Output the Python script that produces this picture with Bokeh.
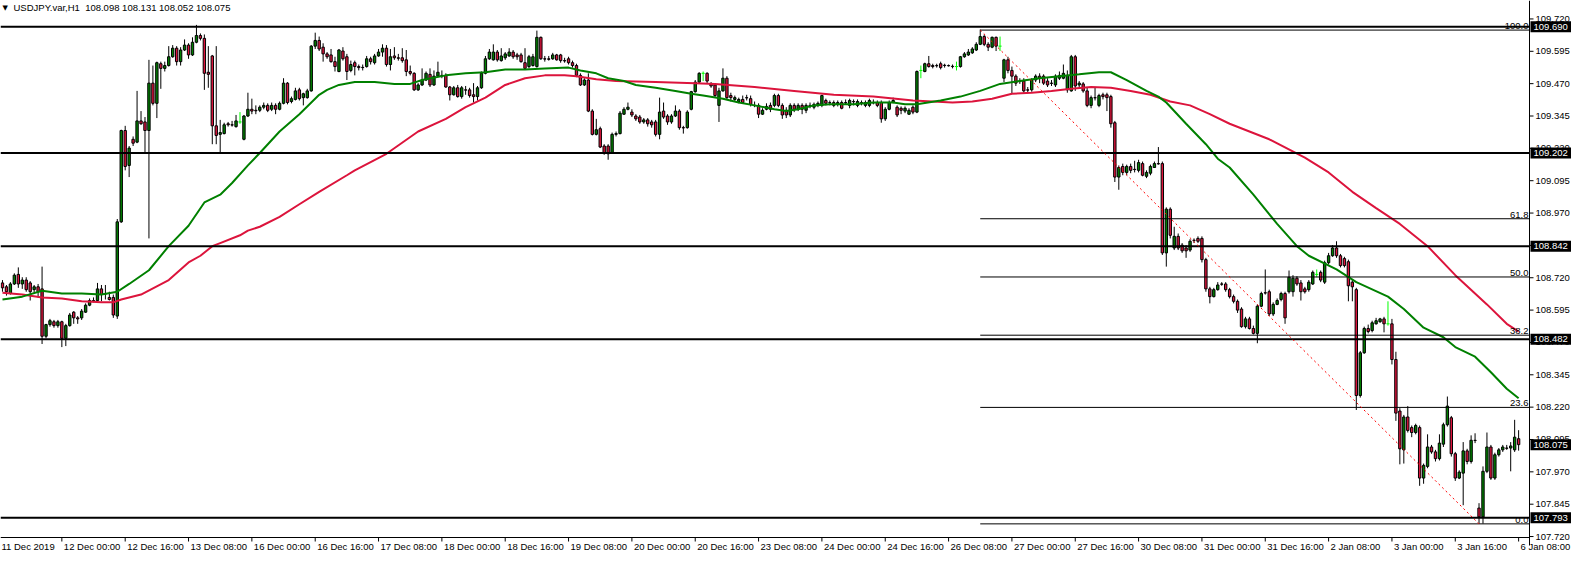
from bokeh.plotting import figure
from bokeh.models import Range1d, ColumnDataSource
from bokeh.core.properties import value
from bokeh.embed import file_html
from bokeh.resources import INLINE

# ---------------- data ----------------
opens = [108.700,108.685,108.659,108.696,108.733,108.696,108.711,108.700,108.674,108.685,
108.677,108.494,108.539,108.550,108.535,108.550,108.486,108.535,108.587,108.565,
108.565,108.587,108.614,108.632,108.632,108.677,108.659,108.644,108.644,108.572,
108.936,109.289,109.154,109.255,109.244,109.326,109.322,109.289,109.472,109.394,
109.547,109.529,109.540,109.574,109.607,109.555,109.600,109.619,109.581,109.630,
109.656,109.645,109.514,109.577,109.307,109.274,109.277,109.315,109.311,109.304,
109.322,109.255,109.345,109.371,109.367,109.367,109.379,109.386,109.371,109.386,
109.371,109.394,109.472,109.401,109.409,109.446,109.416,109.416,109.442,109.615,
109.637,109.611,109.585,109.581,109.555,109.517,109.596,109.574,109.521,109.551,
109.536,109.532,109.536,109.566,109.551,109.577,109.592,109.607,109.544,109.577,
109.570,109.570,109.562,109.517,109.510,109.446,109.465,109.484,109.506,109.465,
109.499,109.502,109.502,109.457,109.427,109.454,109.420,109.446,109.446,109.427,
109.420,109.454,109.510,109.566,109.562,109.592,109.559,109.570,109.577,109.592,
109.581,109.581,109.551,109.536,109.540,109.536,109.649,109.566,109.566,109.566,
109.581,109.581,109.559,109.566,109.551,109.540,109.502,109.465,109.484,109.364,
109.274,109.296,109.229,109.229,109.202,109.274,109.277,109.352,109.371,109.360,
109.345,109.341,109.322,109.330,109.322,109.322,109.274,109.364,109.345,109.322,
109.345,109.364,109.300,109.300,109.371,109.439,109.476,109.510,109.510,109.469,
109.465,109.386,109.442,109.491,109.424,109.409,109.401,109.409,109.416,109.412,
109.386,109.386,109.352,109.371,109.386,109.386,109.424,109.386,109.367,109.349,
109.386,109.371,109.386,109.367,109.386,109.379,109.386,109.386,109.405,109.397,
109.397,109.390,109.397,109.397,109.386,109.401,109.386,109.397,109.386,109.386,
109.397,109.397,109.397,109.334,109.371,109.397,109.379,109.375,109.364,109.352,
109.379,109.360,109.521,109.517,109.547,109.540,109.540,109.547,109.540,109.540,
109.536,109.536,109.536,109.574,109.581,109.589,109.600,109.622,109.652,109.622,
109.611,109.649,109.615,109.491,109.562,109.521,109.499,109.480,109.480,109.446,
109.446,109.484,109.499,109.499,109.480,109.472,109.465,109.491,109.491,109.446,
109.442,109.574,109.465,109.469,109.442,109.386,109.416,109.386,109.427,109.427,
109.420,109.319,109.109,109.150,109.127,109.150,109.139,109.135,109.161,109.112,
109.124,109.146,109.161,109.161,108.816,108.985,108.835,108.880,108.846,108.835,
108.827,108.865,108.872,108.872,108.790,108.677,108.647,108.674,108.696,108.696,
108.674,108.647,108.629,108.599,108.531,108.561,108.524,108.505,108.610,108.662,
108.666,108.580,108.617,108.636,108.659,108.666,108.666,108.718,108.700,108.677,
108.674,108.696,108.733,108.741,108.703,108.778,108.805,108.835,108.805,108.794,
108.782,108.703,108.674,108.265,108.430,108.524,108.516,108.542,108.550,108.561,
108.542,108.542,108.404,108.205,108.055,108.182,108.141,108.122,108.141,107.946,
107.991,108.066,108.047,108.021,108.077,108.152,108.179,108.040,107.946,107.965,
108.051,108.010,108.092,107.830,107.796,107.972,108.066,107.946,108.036,108.055,
108.062,108.062,108.055,108.098]

highs = [108.711,108.692,108.703,108.737,108.760,108.722,108.722,108.707,108.692,108.696,
108.763,108.542,108.561,108.557,108.557,108.554,108.542,108.584,108.591,108.572,
108.599,108.621,108.640,108.644,108.700,108.692,108.692,108.666,108.655,108.947,
109.292,109.307,109.229,109.266,109.442,109.364,109.341,109.562,109.540,109.555,
109.555,109.555,109.615,109.619,109.615,109.611,109.641,109.626,109.649,109.697,
109.664,109.660,109.615,109.581,109.615,109.330,109.319,109.322,109.326,109.349,
109.360,109.349,109.435,109.412,109.386,109.386,109.397,109.394,109.397,109.394,
109.401,109.491,109.476,109.420,109.454,109.454,109.435,109.450,109.619,109.667,
109.652,109.626,109.592,109.604,109.574,109.604,109.611,109.585,109.559,109.559,
109.544,109.544,109.577,109.574,109.585,109.604,109.622,109.619,109.604,109.611,
109.585,109.607,109.600,109.540,109.514,109.472,109.529,109.517,109.529,109.521,
109.555,109.521,109.510,109.461,109.461,109.465,109.461,109.461,109.454,109.472,
109.461,109.517,109.577,109.604,109.622,109.600,109.607,109.592,109.607,109.600,
109.589,109.589,109.607,109.581,109.585,109.675,109.652,109.577,109.577,109.589,
109.585,109.585,109.570,109.574,109.559,109.547,109.510,109.491,109.510,109.371,
109.334,109.304,109.236,109.236,109.281,109.285,109.364,109.379,109.397,109.371,
109.352,109.349,109.337,109.337,109.330,109.330,109.416,109.397,109.352,109.352,
109.386,109.371,109.307,109.367,109.442,109.484,109.514,109.517,109.514,109.476,
109.472,109.454,109.529,109.499,109.435,109.424,109.416,109.424,109.427,109.424,
109.401,109.394,109.375,109.394,109.397,109.431,109.431,109.394,109.379,109.394,
109.394,109.394,109.394,109.394,109.397,109.397,109.401,109.427,109.412,109.405,
109.405,109.405,109.405,109.409,109.412,109.409,109.409,109.405,109.405,109.412,
109.409,109.405,109.405,109.379,109.405,109.416,109.386,109.382,109.382,109.375,
109.386,109.521,109.540,109.551,109.577,109.547,109.547,109.555,109.547,109.544,
109.544,109.555,109.577,109.592,109.604,109.611,109.630,109.679,109.660,109.630,
109.652,109.652,109.652,109.566,109.574,109.536,109.506,109.491,109.491,109.457,
109.491,109.506,109.510,109.506,109.491,109.484,109.506,109.517,109.544,109.521,
109.581,109.581,109.480,109.476,109.454,109.424,109.454,109.431,109.435,109.435,
109.427,109.326,109.154,109.161,109.157,109.161,109.172,109.176,109.169,109.135,
109.157,109.169,109.225,109.169,108.992,108.992,108.917,108.891,108.854,108.846,
108.869,108.872,108.880,108.880,108.797,108.685,108.681,108.703,108.703,108.703,
108.681,108.655,108.636,108.606,108.569,108.569,108.535,108.617,108.666,108.752,
108.674,108.625,108.640,108.666,108.666,108.748,108.730,108.726,108.711,108.685,
108.711,108.748,108.752,108.748,108.786,108.816,108.846,108.861,108.812,108.801,
108.790,108.711,108.681,108.437,108.531,108.539,108.554,108.565,108.565,108.569,
108.629,108.561,108.434,108.216,108.190,108.224,108.149,108.156,108.149,108.002,
108.115,108.074,108.055,108.115,108.160,108.261,108.186,108.047,107.976,108.085,
108.059,108.111,108.119,107.849,107.991,108.122,108.074,108.044,108.062,108.074,
108.074,108.085,108.171,108.131]

lows = [108.666,108.651,108.655,108.692,108.681,108.677,108.666,108.632,108.662,108.644,
108.464,108.486,108.531,108.527,108.527,108.452,108.456,108.531,108.542,108.542,
108.557,108.584,108.610,108.625,108.629,108.629,108.636,108.632,108.565,108.561,
108.932,109.135,109.109,109.229,109.240,109.311,109.206,108.872,109.386,109.337,
109.450,109.517,109.536,109.570,109.540,109.540,109.596,109.566,109.577,109.626,
109.637,109.446,109.454,109.236,109.236,109.202,109.274,109.304,109.304,109.300,
109.315,109.251,109.341,109.352,109.352,109.360,109.371,109.360,109.364,109.352,
109.367,109.390,109.390,109.394,109.405,109.405,109.386,109.412,109.439,109.604,
109.596,109.555,109.566,109.551,109.517,109.514,109.559,109.484,109.514,109.502,
109.521,109.521,109.532,109.544,109.544,109.574,109.574,109.536,109.521,109.562,
109.559,109.551,109.499,109.502,109.442,109.442,109.461,109.480,109.457,109.461,
109.495,109.491,109.454,109.405,109.424,109.416,109.412,109.427,109.416,109.397,
109.405,109.450,109.506,109.562,109.559,109.555,109.555,109.562,109.574,109.566,
109.562,109.551,109.525,109.529,109.536,109.532,109.562,109.555,109.559,109.562,
109.559,109.551,109.551,109.544,109.532,109.495,109.461,109.461,109.360,109.270,
109.270,109.221,109.195,109.176,109.199,109.266,109.274,109.349,109.367,109.341,
109.326,109.315,109.315,109.304,109.300,109.266,109.255,109.334,109.311,109.315,
109.341,109.292,109.277,109.296,109.367,109.435,109.472,109.480,109.472,109.454,
109.416,109.322,109.439,109.409,109.401,109.401,109.394,109.394,109.405,109.382,
109.379,109.337,109.349,109.367,109.360,109.379,109.379,109.334,109.337,109.341,
109.360,109.364,109.352,109.356,109.375,109.371,109.379,109.379,109.386,109.386,
109.379,109.382,109.371,109.390,109.375,109.386,109.379,109.386,109.379,109.379,
109.390,109.379,109.319,109.326,109.367,109.394,109.341,109.352,109.356,109.349,
109.352,109.356,109.491,109.514,109.532,109.529,109.532,109.525,109.532,109.536,
109.529,109.521,109.532,109.570,109.577,109.585,109.596,109.619,109.615,109.596,
109.607,109.596,109.596,109.476,109.510,109.431,109.461,109.469,109.435,109.435,
109.439,109.476,109.472,109.465,109.457,109.461,109.457,109.484,109.487,109.435,
109.439,109.442,109.454,109.435,109.379,109.375,109.405,109.379,109.409,109.364,
109.300,109.090,109.060,109.116,109.116,109.124,109.127,109.127,109.112,109.105,
109.116,109.146,109.157,108.808,108.763,108.872,108.827,108.827,108.816,108.797,
108.820,108.854,108.854,108.779,108.666,108.621,108.644,108.670,108.689,108.666,
108.640,108.621,108.584,108.527,108.524,108.520,108.501,108.467,108.606,108.655,
108.572,108.572,108.614,108.629,108.542,108.659,108.647,108.689,108.632,108.659,
108.666,108.692,108.722,108.703,108.696,108.771,108.801,108.797,108.760,108.760,
108.629,108.629,108.209,108.257,108.426,108.505,108.509,108.539,108.546,108.509,
108.535,108.385,108.167,107.999,108.002,108.122,108.104,108.115,107.916,107.924,
107.984,108.040,108.010,108.014,108.066,108.145,108.029,107.935,107.942,107.841,
107.999,108.002,108.081,107.770,107.770,107.965,107.939,107.939,108.029,108.047,
108.055,107.972,108.047,108.052]

closes = [108.681,108.666,108.696,108.730,108.696,108.711,108.674,108.666,108.685,108.666,
108.494,108.539,108.554,108.535,108.550,108.486,108.535,108.576,108.565,108.561,
108.591,108.614,108.632,108.629,108.677,108.655,108.657,108.636,108.576,108.936,
109.289,109.150,109.221,109.240,109.326,109.315,109.289,109.472,109.394,109.551,
109.529,109.540,109.574,109.607,109.555,109.600,109.619,109.581,109.630,109.656,
109.645,109.510,109.506,109.307,109.270,109.281,109.311,109.311,109.310,109.326,
109.322,109.345,109.371,109.364,109.365,109.379,109.386,109.367,109.386,109.371,
109.394,109.472,109.397,109.412,109.442,109.412,109.431,109.442,109.615,109.637,
109.604,109.585,109.574,109.555,109.536,109.600,109.566,109.517,109.544,109.536,
109.532,109.533,109.566,109.555,109.577,109.592,109.607,109.544,109.574,109.570,
109.568,109.559,109.517,109.510,109.446,109.465,109.484,109.510,109.465,109.499,
109.514,109.501,109.457,109.427,109.454,109.420,109.454,109.445,109.424,109.420,
109.454,109.510,109.566,109.592,109.592,109.562,109.577,109.585,109.592,109.574,
109.574,109.555,109.529,109.574,109.574,109.649,109.566,109.565,109.564,109.581,
109.562,109.559,109.558,109.551,109.540,109.502,109.465,109.484,109.364,109.274,
109.292,109.225,109.202,109.199,109.274,109.277,109.356,109.371,109.379,109.349,
109.334,109.322,109.330,109.315,109.311,109.274,109.360,109.341,109.322,109.345,
109.364,109.300,109.299,109.360,109.439,109.476,109.510,109.510,109.480,109.461,
109.424,109.442,109.491,109.416,109.416,109.416,109.409,109.397,109.415,109.390,
109.385,109.352,109.367,109.382,109.371,109.424,109.386,109.349,109.349,109.386,
109.371,109.386,109.371,109.386,109.385,109.390,109.394,109.424,109.394,109.396,
109.386,109.397,109.375,109.396,109.405,109.400,109.401,109.396,109.397,109.405,
109.396,109.386,109.334,109.371,109.397,109.405,109.349,109.367,109.375,109.367,
109.360,109.517,109.521,109.547,109.536,109.536,109.539,109.532,109.541,109.539,
109.537,109.536,109.574,109.585,109.592,109.604,109.622,109.652,109.622,109.611,
109.649,109.615,109.615,109.562,109.521,109.499,109.472,109.478,109.442,109.445,
109.484,109.499,109.491,109.472,109.465,109.471,109.499,109.502,109.510,109.502,
109.574,109.461,109.472,109.442,109.386,109.416,109.415,109.424,109.420,109.416,
109.315,109.109,109.146,109.127,109.150,109.135,109.138,109.165,109.116,109.127,
109.150,109.161,109.160,108.816,108.985,108.884,108.880,108.835,108.824,108.824,
108.861,108.864,108.861,108.790,108.677,108.647,108.674,108.692,108.695,108.674,
108.647,108.629,108.595,108.531,108.561,108.524,108.505,108.610,108.659,108.661,
108.580,108.617,108.632,108.659,108.565,108.722,108.718,108.696,108.666,108.666,
108.703,108.741,108.733,108.711,108.778,108.805,108.835,108.805,108.767,108.767,
108.689,108.685,108.265,108.430,108.524,108.512,108.546,108.554,108.561,108.542,
108.542,108.404,108.197,108.059,108.182,108.130,108.122,108.149,107.946,107.995,
108.066,108.047,108.021,108.081,108.152,108.224,108.040,107.946,107.969,108.051,
108.010,108.092,108.091,107.796,107.972,108.066,107.946,108.036,108.055,108.066,
108.061,108.070,108.104,108.075]

# moving averages (read at sampled bars)
ma_fast_bars = [0,5,10,15,20,25,29,32,37,42,47,51,55,58,62,65,70,75,80,82,85,89,94,99,103,106,112,117,122,127,
                132,137,143,146,150,153,157,160,165,170,174,177,182,186,190,195,198,201,205,209,215,220,225,228,231,
                237,242,247,252,257,262,267,272,277,280,284,289,292,294,299,304,307,310,316,322,327,330,337,342,350,
                354,359,364,367,372,376,380,383]
ma_fast_vals = [108.636,108.647,108.670,108.659,108.659,108.655,108.666,108.696,108.749,108.842,108.921,109.011,
                109.041,109.086,109.154,109.202,109.285,109.352,109.427,109.446,109.465,109.476,109.476,109.469,
                109.469,109.484,109.502,109.510,109.514,109.525,109.525,109.529,109.532,109.521,109.510,109.491,
                109.480,109.465,109.454,109.442,109.431,109.424,109.412,109.397,109.386,109.371,109.364,109.371,
                109.386,109.390,109.390,109.397,109.397,109.390,109.390,109.405,109.420,109.442,109.469,109.480,
                109.491,109.499,109.506,109.514,109.514,109.484,109.442,109.420,109.397,109.315,109.236,109.180,
                109.146,109.041,108.928,108.842,108.805,108.752,108.703,108.647,108.599,108.527,108.490,108.452,
                108.415,108.355,108.291,108.254]
ma_slow_bars = [0,5,10,15,20,25,28,30,35,42,47,50,53,55,60,62,65,70,75,80,87,89,97,105,112,117,122,127,132,137,
                142,145,150,155,165,175,180,190,200,210,220,230,240,245,250,255,260,265,270,275,280,285,290,295,
                300,305,310,320,329,335,341,347,353,360,367,375,380,383]
ma_slow_vals = [108.662,108.655,108.644,108.640,108.629,108.625,108.625,108.636,108.655,108.711,108.779,108.805,
                108.842,108.854,108.884,108.902,108.917,108.955,109.004,109.052,109.116,109.135,109.199,109.285,
                109.334,109.379,109.416,109.465,109.491,109.502,109.502,109.499,109.487,109.480,109.476,109.472,
                109.469,109.457,109.442,109.427,109.420,109.405,109.397,109.401,109.412,109.431,109.435,109.442,
                109.450,109.457,109.454,109.442,109.427,109.401,109.386,109.352,109.315,109.255,109.184,109.127,
                109.052,108.989,108.928,108.842,108.730,108.617,108.542,108.512]

levels = [109.690, 109.202, 108.842, 108.482, 107.793]
level_labels = ["109.690", "109.202", "108.842", "108.482", "107.793"]
current_price = 108.075
current_label = "108.075"
fib_names = ["100.0", "61.8", "50.0", "38.2", "23.6", "0.0"]
fib_prices = [109.677, 108.948, 108.723, 108.498, 108.219, 107.769]
fib_start_bar, fib_end_bar = 247, 373

price_ticks = [107.720, 107.845, 107.970, 108.095, 108.220, 108.345, 108.470, 108.595, 108.720,
               108.845, 108.970, 109.095, 109.220, 109.345, 109.470, 109.595, 109.720]
time_tick_bars = [0, 15, 31, 47, 63, 79, 95, 111, 127, 143, 159, 175, 191, 207, 223,
                  239, 255, 271, 287, 303, 319, 335, 351, 367, 383]
time_tick_labels = ["11 Dec 2019", "12 Dec 00:00", "12 Dec 16:00", "13 Dec 08:00", "16 Dec 00:00",
                    "16 Dec 16:00", "17 Dec 08:00", "18 Dec 00:00", "18 Dec 16:00", "19 Dec 08:00",
                    "20 Dec 00:00", "20 Dec 16:00", "23 Dec 08:00", "24 Dec 00:00", "24 Dec 16:00",
                    "26 Dec 08:00", "27 Dec 00:00", "27 Dec 16:00", "30 Dec 08:00", "31 Dec 00:00",
                    "31 Dec 16:00", "2 Jan 08:00", "3 Jan 00:00", "3 Jan 16:00", "6 Jan 08:00"]
title_text = "USDJPY.var,H1\u00a0 108.098 108.131 108.052 108.075"

# ---------------- geometry ----------------
FONT = value("Liberation Sans")
FS = "9.5px"
W, H = 1571, 555            # canvas
CW, CH = 1529, 537          # chart area (left/top part of the canvas)
X0, XR = -0.5, 385.75       # bar range of the chart area
Y0, Y1 = 107.7163, 109.7913 # price range of the chart area
PXX = (XR - X0) / CW        # bars per pixel
PXY = (Y1 - Y0) / CH        # price per pixel
XE = X0 + W * PXX
YS = Y1 - H * PXY

p = figure(width=W, height=H, x_range=Range1d(X0, XE), y_range=Range1d(YS, Y1),
           output_backend="svg", toolbar_location=None,
           x_axis_location=None, y_axis_location=None,
           min_border_left=0, min_border_top=0, min_border_right=0, min_border_bottom=0)
p.outline_line_color = None
p.background_fill_color = "white"
p.grid.visible = False

# ---------------- candles ----------------
n = len(closes)
idx = list(range(n))
normal = [i for i in idx if opens[i] != closes[i]]
doji = [i for i in idx if opens[i] == closes[i]]

src = ColumnDataSource(dict(
    x=normal,
    hi=[highs[i] for i in normal],
    lo=[lows[i] for i in normal],
    top=[max(opens[i], closes[i]) for i in normal],
    bot=[min(opens[i], closes[i]) for i in normal],
    col=["#008000" if closes[i] > opens[i] else "#DC143C" for i in normal],
))
p.segment(x0="x", y0="hi", x1="x", y1="lo", source=src, line_color="black", line_width=1)
p.vbar(x="x", top="top", bottom="bot", width=0.6, source=src, fill_color="col",
       line_color="black", line_width=1)

dsrc = ColumnDataSource(dict(
    x=doji, hi=[highs[i] for i in doji], lo=[lows[i] for i in doji],
    o=[opens[i] for i in doji],
    xl=[i - 0.4 for i in doji], xr=[i + 0.4 for i in doji],
))
p.segment(x0="x", y0="hi", x1="x", y1="lo", source=dsrc, line_color="#00FF00", line_width=1)
p.segment(x0="xl", y0="o", x1="xr", y1="o", source=dsrc, line_color="#00FF00", line_width=1)

# ---------------- moving averages ----------------
p.line(ma_slow_bars, ma_slow_vals, line_color="#DC143C", line_width=2)
p.line(ma_fast_bars, ma_fast_vals, line_color="#008000", line_width=2)

# ---------------- horizontal levels ----------------
p.segment(x0=[X0] * len(levels), y0=levels, x1=[XR] * len(levels), y1=levels,
          line_color="black", line_width=2)

# ---------------- fibonacci ----------------
p.segment(x0=[fib_start_bar] * len(fib_prices), y0=fib_prices,
          x1=[XR] * len(fib_prices), y1=fib_prices, line_color="black", line_width=1)
p.line([fib_start_bar, fib_end_bar], [fib_prices[0], fib_prices[-1]],
       line_color="#FF0000", line_width=1, line_dash="2 3")
p.text(x=[XR - 1 * PXX] * len(fib_prices), y=[v + 1 * PXY for v in fib_prices], text=fib_names,
       text_align="right", text_baseline="bottom", text_font=FONT, text_font_size=FS,
       text_color="black")

# ---------------- axes (drawn as glyphs) ----------------
p.segment(x0=[XR], y0=[Y1], x1=[XR], y1=[Y0 - 8 * PXY], line_color="black", line_width=1)
p.segment(x0=[X0], y0=[Y0], x1=[XR], y1=[Y0], line_color="black", line_width=1)
# price axis ticks + labels
p.segment(x0=[XR] * len(price_ticks), y0=price_ticks, x1=[XR + 4 * PXX] * len(price_ticks),
          y1=price_ticks, line_color="black", line_width=1)
p.text(x=[XR + 6 * PXX] * len(price_ticks), y=price_ticks, text=["%.3f" % t for t in price_ticks],
       text_align="left", text_baseline="middle", text_font=FONT, text_font_size=FS,
       text_color="black")
# time axis ticks + labels
p.segment(x0=time_tick_bars[1:], y0=[Y0] * (len(time_tick_bars) - 1), x1=time_tick_bars[1:],
          y1=[Y0 - 4 * PXY] * (len(time_tick_bars) - 1), line_color="black", line_width=1)
tx = [X0 + 1 * PXX] + [b + 2 * PXX for b in time_tick_bars[1:]]
p.text(x=tx, y=[Y0 - 3 * PXY] * len(time_tick_bars), text=time_tick_labels,
       text_align="left", text_baseline="top", text_font=FONT, text_font_size=FS,
       text_color="black")

# price boxes
box_prices = levels + [current_price]
box_texts = level_labels + [current_label]
p.rect(x=[XR + 21.5 * PXX] * len(box_prices), y=box_prices, width=[41] * len(box_prices),
       height=[11] * len(box_prices), width_units="screen", height_units="screen",
       fill_color="black", line_color=None)
p.text(x=[XR + 4 * PXX] * len(box_prices), y=box_prices, text=box_texts,
       text_align="left", text_baseline="middle", text_font=FONT, text_font_size=FS,
       text_color="white")

# ---------------- title ----------------
p.text(x=[X0 + 2 * PXX], y=[Y1 - 3 * PXY], text=["\u25bc"], text_align="left", text_baseline="top",
       text_font=value("DejaVu Sans"), text_font_size="7px", text_color="black")
p.text(x=[X0 + 13 * PXX], y=[Y1 - 1 * PXY], text=[title_text], text_align="left",
       text_baseline="top", text_font=FONT, text_font_size=FS, text_color="black")

open("out.html", "w").write(file_html(p, INLINE))
